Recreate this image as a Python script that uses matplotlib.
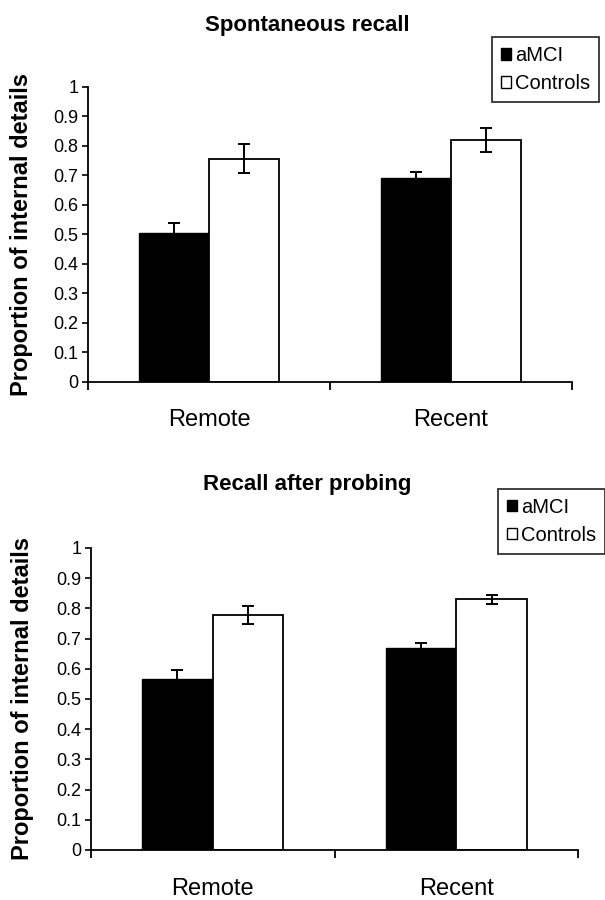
import matplotlib.pyplot as plt
from matplotlib.patches import Patch

plt.rcParams['font.family'] = ['Liberation Sans', 'DejaVu Sans']

groups = ["Remote", "Recent"]
titles = ["Spontaneous recall", "Recall after probing"]

amci_vals = [[0.505, 0.69], [0.565, 0.668]]
amci_err = [[0.035, 0.022], [0.03, 0.018]]
ctrl_vals = [[0.757, 0.82], [0.778, 0.83]]
ctrl_err = [[0.05, 0.04], [0.03, 0.015]]

yticks = [0, 0.1, 0.2, 0.3, 0.4, 0.5, 0.6, 0.7, 0.8, 0.9, 1]
ytick_labels = ["0", "0.1", "0.2", "0.3", "0.4", "0.5", "0.6", "0.7", "0.8", "0.9", "1"]

fig = plt.figure(figsize=(6.05, 9.0), dpi=100)

axes_pos = [[0.1455, 0.5756, 0.800, 0.3278], [0.1504, 0.0556, 0.805, 0.3356]]
title_y = [0.972, 0.462]
legend_anchor = [(0.990, 0.959), (1.0, 0.457)]
ylabel_x = [-0.114, -0.117]

w = 0.29
for i in range(2):
    ax = fig.add_axes(axes_pos[i])
    x = [0, 1]
    ax.bar([p - w / 2 for p in x], amci_vals[i], w, color="black", edgecolor="black", linewidth=1)
    ax.bar([p + w / 2 for p in x], ctrl_vals[i], w, color="white", edgecolor="black", linewidth=1.3)
    ax.errorbar([p - w / 2 for p in x], amci_vals[i], yerr=amci_err[i], fmt="none",
                ecolor="black", elinewidth=1.4, capsize=4.5, capthick=1.4)
    ax.errorbar([p + w / 2 for p in x], ctrl_vals[i], yerr=ctrl_err[i], fmt="none",
                ecolor="black", elinewidth=1.4, capsize=4.5, capthick=1.4)

    ax.set_xlim(-0.5, 1.5)
    ax.set_ylim(0, 1)
    ax.spines["top"].set_visible(False)
    ax.spines["right"].set_visible(False)
    ax.spines["left"].set_linewidth(1.3)
    ax.spines["bottom"].set_linewidth(1.3)

    ax.set_yticks(yticks)
    ax.set_yticklabels(ytick_labels, fontsize=13)
    ax.tick_params(axis="y", direction="out", length=4, width=1.2, pad=3)

    ax.set_xticks([-0.5, 0.5, 1.5])
    ax.set_xticklabels([])
    ax.tick_params(axis="x", direction="out", length=6, width=1.3)
    for p, g in zip(x, groups):
        ax.text(p, -0.13, g, ha="center", va="center", fontsize=17)

    ax.set_ylabel("Proportion of internal details", fontsize=17, fontweight="bold")
    ax.yaxis.set_label_coords(ylabel_x[i], 0.5)
    fig.text(0.508, title_y[i], titles[i], ha="center", va="center", fontsize=16, fontweight="bold")

    handles = [Patch(facecolor="black", edgecolor="black"),
               Patch(facecolor="white", edgecolor="black")]
    leg = fig.legend(handles, ["aMCI", "Controls"], loc="upper right",
                     bbox_to_anchor=legend_anchor[i], fontsize=14.5, frameon=True,
                     fancybox=False, handlelength=0.5, handleheight=0.5,
                     handletextpad=0.2, borderpad=0.45, labelspacing=0.45,
                     borderaxespad=0)
    leg.get_frame().set_edgecolor("black")
    leg.get_frame().set_linewidth(1.3)

fig.savefig("out.png", dpi=100)
